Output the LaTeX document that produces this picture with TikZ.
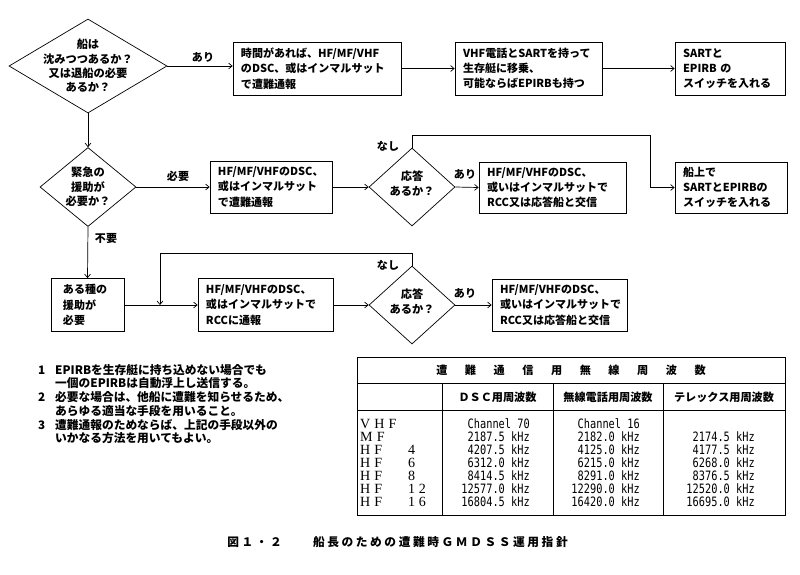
\documentclass[tikz,border=0pt]{standalone}
\usepackage{fontspec}
\setmainfont{Noto Sans CJK JP}
\newfontfamily\numfont[FakeStretch=0.8]{DejaVu Sans Mono}
\newfontfamily\serifl{Liberation Serif}
\usetikzlibrary{shapes.geometric,arrows.meta}
\newcommand\ls{\hspace{3.5pt}}
\newcommand\tg{\hspace{15pt}}
\newcommand\rlab[1]{\makebox[1.44cm][l]{H\ls F}#1}
\tikzset{
  every node/.style={font=\fontsize{9.4}{13}\selectfont\bfseries},
  box/.style={draw, line width=0.6pt, rectangle, minimum height=1.59cm, align=left, inner xsep=0.24cm, inner ysep=0pt},
  dia/.style={draw, diamond, line width=0.6pt, inner sep=0pt},
  dtext/.style={inner sep=0pt, align=center, font=\fontsize{9.6}{12.2}\selectfont\bfseries},
  lbl/.style={inner sep=0pt},
  conn/.style={line width=0.6pt, -{Straight Barb[length=3pt,width=5pt]}},
  grid/.style={line width=0.6pt},
  val/.style={anchor=base east, inner sep=0pt, font=\numfont\fontsize{11}{11}\selectfont},
  rowl/.style={anchor=base west, inner sep=0pt, font=\serifl\fontsize{12}{12}\selectfont},
  head/.style={inner sep=0pt, font=\fontsize{9.5}{11}\selectfont\bfseries},
}
\begin{document}
\begin{tikzpicture}[x=0.03cm,y=-0.03cm]
\useasboundingbox (0,0) rectangle (800,574);
% top row
\node[dia, minimum width=4.74cm, minimum height=2.82cm,
  label={[dtext]center:{船は\\沈みつつあるか？\\又は退船の必要\\あるか？}}] (d1) at (88,66) {};
\node[box, text width=4.56cm] (b1) at (317,68.5) {時間があれば、HF/MF/VHF\\のDSC、或はインマルサット\\で遭難通報};
\node[box, text width=3.93cm] (b2) at (528.5,68.5) {VHF電話とSARTを持って\\生存艇に移乗、\\可能ならばEPIRBも持つ};
\node[box, text width=2.82cm] (b3) at (730,68.5) {SARTと\\EPIRB の\\スイッチを入れる};
\node[lbl] (l1) at (203,57) {あり};
\draw[conn] (d1.east) -- (d1.east -| b1.west);
\draw[conn] (b1.east) -- (b2.west);
\draw[conn] (b2.east) -- (b3.west);
% middle row
\node[dia, minimum width=2.88cm, minimum height=2.37cm,
  label={[dtext]center:{緊急の\\援助が\\必要か？}}] (d2) at (88,187) {};
\node[box, minimum height=1.56cm, text width=3.18cm] (b4) at (271,187) {HF/MF/VHFのDSC、\\或はインマルサット\\で遭難通報};
\node[dia, minimum width=2.58cm, minimum height=2.34cm,
  label={[dtext, yshift=0.1cm]center:{応答\\あるか？}}] (d3) at (412,187) {};
\node[box, minimum height=1.53cm, text width=3.93cm] (b6) at (552.5,187.5) {HF/MF/VHFのDSC、\\或いはインマルサットで\\RCC又は応答船と交信};
\node[box, minimum height=1.53cm, text width=2.88cm] (b5) at (731,187.5) {船上で\\SARTとEPIRBの\\スイッチを入れる};
\node[lbl] (l2) at (178,176) {必要};
\node[lbl] (l3) at (388,146) {なし};
\node[lbl] (l4) at (465,174) {あり};
\coordinate (k1) at (650,135);
\draw[conn] (d1.south) -- (d2.north);
\draw[conn] (d2.east) -- (b4.west);
\draw[conn] (b4.east) -- (d3.west);
\draw[conn] (d3.east) -- (b6.west);
\draw[conn] (d3.north) |- (k1) |- (b5.west);
% bottom row
\node[box, minimum height=1.59cm, inner xsep=0.36cm, text width=1.47cm] (b7) at (87.5,305) {ある種の\\援助が\\必要};
\node[box, minimum height=1.59cm, text width=3.57cm] (b8) at (265.5,305) {HF/MF/VHFのDSC、\\或はインマルサットで\\RCCに通報};
\node[dia, minimum width=2.58cm, minimum height=2.34cm,
  label={[dtext, yshift=0.1cm]center:{応答\\あるか？}}] (d4) at (412,305) {};
\node[box, minimum height=1.56cm, text width=3.57cm] (b9) at (559.5,305) {HF/MF/VHFのDSC、\\或いはインマルサットで\\RCC又は応答船と交信};
\node[lbl] (l5) at (106,239) {不要};
\node[lbl] (l6) at (388,265) {なし};
\node[lbl] (l7) at (465,293) {あり};
\coordinate (k2) at (160,253);
\draw[conn] (d2.south) -- (b7.north);
\draw[conn] (b7.east) -- (b8.west);
\draw[conn] (b8.east) -- (d4.west);
\draw[conn] (d4.east) -- (b9.west);
\draw[conn] (d4.north) |- (k2) -- (k2 |- b8.west);
% notes
\node[anchor=base west, inner sep=0pt, font=\fontsize{10}{10.6}\selectfont\bfseries] (notes) at (38,374)
 {\begin{tabular}[t]{@{}l@{}l@{}}
 \makebox[0.51cm][l]{1} & EPIRBを生存艇に持ち込めない場合でも\\
 & 一個のEPIRBは自動浮上し送信する。\\
 \makebox[0.51cm][l]{2} & 必要な場合は、他船に遭難を知らせるため、\\
 & あらゆる適当な手段を用いること。\\
 \makebox[0.51cm][l]{3} & 遭難通報のためならば、上記の手段以外の\\
 & いかなる方法を用いてもよい。
 \end{tabular}};
% table
\draw[grid] (357,357) rectangle (785,515);
\draw[grid] (357,383) -- (785,383);
\draw[grid] (357,410) -- (785,410);
\draw[grid] (442,383) -- (442,515);
\draw[grid] (553,383) -- (553,515);
\draw[grid] (663,383) -- (663,515);
\node[head] (tt) at (571,370) {遭\tg 難\tg 通\tg 信\tg 用\tg 無\tg 線\tg 周\tg 波\tg 数};
\node[head] (h1) at (497.5,397) {ＤＳＣ用周波数};
\node[head] (h2) at (608,397) {無線電話用周波数};
\node[head] (h3) at (724,397) {テレックス用周波数};
\node[rowl] (r0) at (360,428) {V\ls H\ls F};
\node[val] (a0) at (530,428) {Channel 70};
\node[val] (b0) at (640,428) {Channel 16};
\foreach \yy/\lab/\va/\vb/\vc [count=\i] in {
  441/{M\ls F}/2187.5/2182.0/2174.5,
  454/{\rlab{4}}/4207.5/4125.0/4177.5,
  467/{\rlab{6}}/6312.0/6215.0/6268.0,
  480/{\rlab{8}}/8414.5/8291.0/8376.5,
  493/{\rlab{1\hspace{3pt}2}}/12577.0/12290.0/12520.0,
  506/{\rlab{1\hspace{3pt}6}}/16804.5/16420.0/16695.0}{
  \node[rowl] (r\i) at (360,\yy) {\lab};
  \node[val] (a\i) at (530,\yy) {\va\ kHz};
  \node[val] (b\i) at (640,\yy) {\vb\ kHz};
  \node[val] (c\i) at (755,\yy) {\vc\ kHz};
}
% caption
\node[inner sep=0pt, font=\fontsize{10}{12}\selectfont\bfseries\addfontfeature{LetterSpace=22}] (cap) at (397.5,542) {図１・２　　船長のための遭難時ＧＭＤＳＳ運用指針};
\end{tikzpicture}
\end{document}
